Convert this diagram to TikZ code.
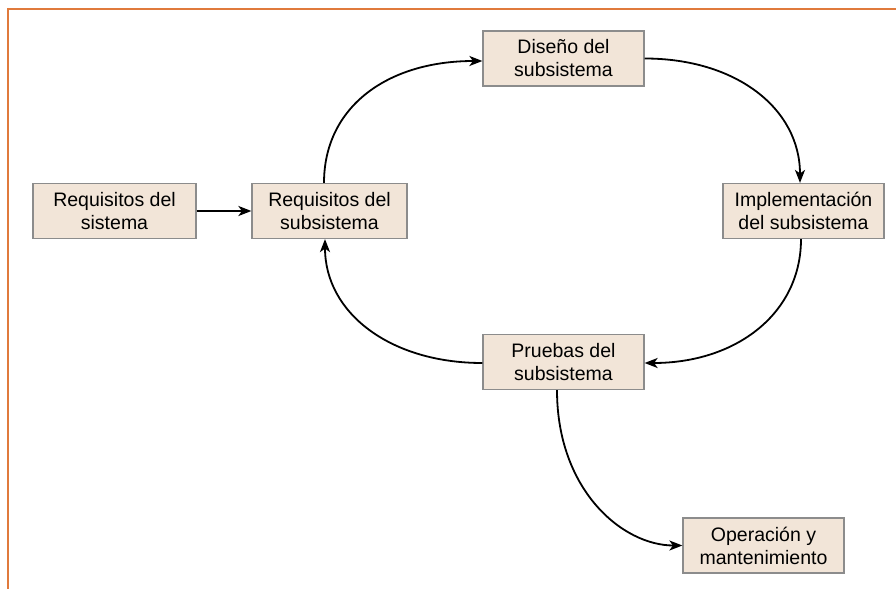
\documentclass[tikz,border=0pt]{standalone}
\usepackage{fontspec}
\setmainfont{Liberation Sans}
\usetikzlibrary{arrows.meta}
\definecolor{framecol}{HTML}{E07A3C}
\definecolor{boxfill}{HTML}{F2E5D8}
\definecolor{boxline}{HTML}{8C8C8C}
\tikzset{
  stage/.style={draw=boxline, fill=boxfill, line width=1.2bp,
    minimum width=161bp, minimum height=55bp, inner sep=0pt,
    align=center, font=\fontsize{19.5bp}{23bp}\selectfont},
  flow/.style={draw=black, line width=1.8bp,
    -{Stealth[length=13bp, width=10bp, inset=3.5bp]}},
  frameline/.style={draw=framecol, line width=2bp}
}
\begin{document}
\begin{tikzpicture}[x=1bp, y=-1bp]
  \path[use as bounding box] (0,0) rectangle (896,589);
  % frame along the top and left edges
  \draw[frameline] (8,9) -- (896,9);
  \draw[frameline] (8,8) -- (8,589);

  % process stages
  \node[stage, minimum width=163bp] (sys) at (114.5,211) {Requisitos del\\sistema};
  \node[stage, minimum width=155bp] (req) at (329.5,211) {Requisitos del\\subsistema};
  \node[stage] (dis) at (563.5,58.5) {Diseño del\\subsistema};
  \node[stage] (imp) at (803.5,211) {Implementación\\del subsistema};
  \node[stage] (pru) at (563.5,362) {Pruebas del\\subsistema};
  \node[stage] (ope) at (763.5,545.5) {Operación y\\mantenimiento};

  % connectors
  \draw[flow] (sys.east) -- (req.west);
  \draw[flow] ([shift={(-5.5,0)}]req.north)
    .. controls +(0,-76) and +(-95,0) .. ([shift={(0,2.5)}]dis.west);
  \draw[flow] (dis.east)
    .. controls +(92,0) and +(0,-74) .. ([shift={(-3.5,0)}]imp.north);
  \draw[flow] ([shift={(-2.5,0)}]imp.south)
    .. controls +(0,74) and +(92,0) .. ([shift={(0,1)}]pru.east);
  \draw[flow] ([shift={(0,1)}]pru.west)
    .. controls +(-92,0) and +(0,74) .. ([shift={(-4.5,0)}]req.south);
  \draw[flow] ([shift={(-6.5,0)}]pru.south)
    .. controls +(0,100) and +(-60,0) .. (ope.west);
\end{tikzpicture}
\end{document}
